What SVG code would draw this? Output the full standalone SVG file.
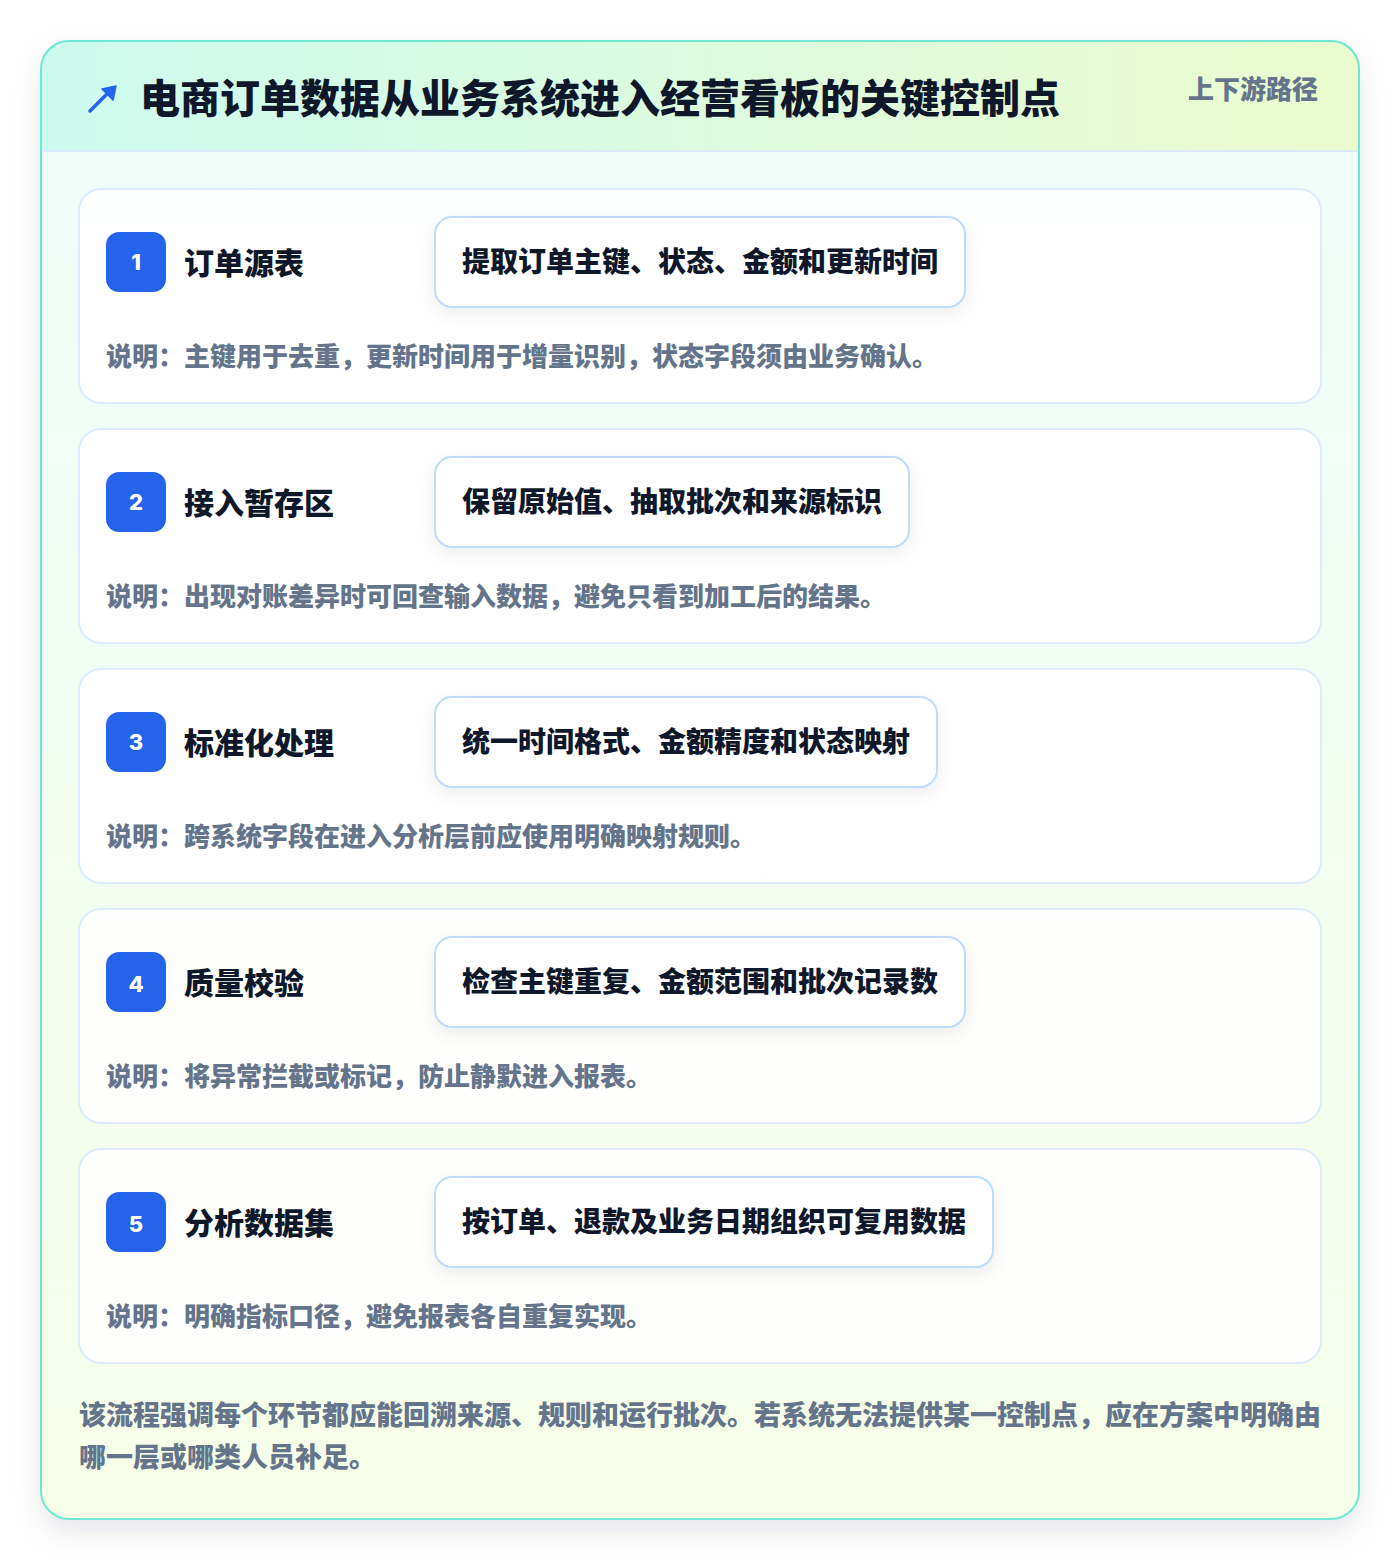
<svg xmlns="http://www.w3.org/2000/svg" width="1400" height="1560" viewBox="0 0 1400 1560">
  <defs>
    <linearGradient id="hdr" x1="0" y1="0" x2="1" y2="0">
      <stop offset="0" stop-color="#cdfaee"/>
      <stop offset="1" stop-color="#ebfbcf"/>
    </linearGradient>
    <linearGradient id="body" x1="0" y1="0" x2="0" y2="1">
      <stop offset="0" stop-color="#effdfa"/>
      <stop offset="1" stop-color="#f6fee8"/>
    </linearGradient>
    <filter id="sh" x="-10%" y="-10%" width="120%" height="120%">
      <feDropShadow dx="0" dy="12" stdDeviation="14" flood-color="#0f172a" flood-opacity="0.10"/>
    </filter>
    <filter id="psh" x="-10%" y="-30%" width="120%" height="160%">
      <feDropShadow dx="0" dy="6" stdDeviation="8" flood-color="#0f172a" flood-opacity="0.07"/>
    </filter>
    <clipPath id="outerClip">
      <rect x="41" y="41" width="1318" height="1478" rx="28"/>
    </clipPath>
  </defs>
  <style>
    text { font-family: "Noto Sans CJK SC", "Noto Sans", sans-serif; font-weight: 900; }
    .title { font-size: 40px; fill: #0f172a; }
    .tag { font-size: 26px; fill: #64748b; }
    .card { fill: #ffffff; fill-opacity: 0.88; stroke: #dbeafe; stroke-width: 2; }
    .badge { fill: #2563eb; }
    .num { font-size: 22px; fill: #ffffff; font-family: "Inter", "Noto Sans", sans-serif; font-weight: 800; }
    .stitle { font-size: 30px; fill: #0f172a; }
    .pill { fill: #ffffff; stroke: #bfdbfe; stroke-width: 2; }
    .ptext { font-size: 28px; fill: #0f172a; }
    .desc { font-size: 26px; fill: #64748b; }
    .foot { font-size: 27px; fill: #64748b; }
  </style>

  <rect width="1400" height="1560" fill="#ffffff"/>

  <g id="frame">
    <rect x="41" y="41" width="1318" height="1478" rx="28" fill="url(#body)" filter="url(#sh)"/>
    <g clip-path="url(#outerClip)">
      <rect x="41" y="41" width="1318" height="110" fill="url(#hdr)"/>
      <line x1="41" y1="151" x2="1359" y2="151" stroke="#dbeafe" stroke-width="2"/>
    </g>
    <rect x="41" y="41" width="1318" height="1478" rx="28" fill="none" stroke="#6ee7d3" stroke-width="2"/>
  </g>

  <g id="header">
    <g id="icon" stroke="#2563eb" fill="#2563eb">
      <line x1="90" y1="111" x2="109" y2="92" stroke-width="3.5" stroke-linecap="round"/>
      <polygon points="116,86 113,100 102,89" stroke-width="1.5" stroke-linejoin="round"/>
    </g>
    <text class="title" x="140" y="113">电商订单数据从业务系统进入经营看板的关键控制点</text>
    <text class="tag" x="1318" y="99" text-anchor="end">上下游路径</text>
  </g>

  <g id="connectors"></g>

  <g id="step1">
    <rect class="card" x="79" y="189" width="1242" height="214" rx="22"/>
    <rect class="badge" x="106" y="232" width="60" height="60" rx="13"/>
    <text class="num" x="136" y="270" text-anchor="middle">1</text>
    <text class="stitle" x="184" y="274">订单源表</text>
    <rect class="pill" x="435" y="217" width="530" height="90" rx="17" filter="url(#psh)"/>
    <text class="ptext" x="462" y="272">提取订单主键、状态、金额和更新时间</text>
    <text class="desc" x="106" y="366">说明：主键用于去重，更新时间用于增量识别，状态字段须由业务确认。</text>
  </g>

  <g id="step2">
    <rect class="card" x="79" y="429" width="1242" height="214" rx="22"/>
    <rect class="badge" x="106" y="472" width="60" height="60" rx="13"/>
    <text class="num" x="136" y="510" text-anchor="middle">2</text>
    <text class="stitle" x="184" y="514">接入暂存区</text>
    <rect class="pill" x="435" y="457" width="474" height="90" rx="17" filter="url(#psh)"/>
    <text class="ptext" x="462" y="512">保留原始值、抽取批次和来源标识</text>
    <text class="desc" x="106" y="606">说明：出现对账差异时可回查输入数据，避免只看到加工后的结果。</text>
  </g>

  <g id="step3">
    <rect class="card" x="79" y="669" width="1242" height="214" rx="22"/>
    <rect class="badge" x="106" y="712" width="60" height="60" rx="13"/>
    <text class="num" x="136" y="750" text-anchor="middle">3</text>
    <text class="stitle" x="184" y="754">标准化处理</text>
    <rect class="pill" x="435" y="697" width="502" height="90" rx="17" filter="url(#psh)"/>
    <text class="ptext" x="462" y="752">统一时间格式、金额精度和状态映射</text>
    <text class="desc" x="106" y="846">说明：跨系统字段在进入分析层前应使用明确映射规则。</text>
  </g>

  <g id="step4">
    <rect class="card" x="79" y="909" width="1242" height="214" rx="22"/>
    <rect class="badge" x="106" y="952" width="60" height="60" rx="13"/>
    <text class="num" x="136" y="992" text-anchor="middle">4</text>
    <text class="stitle" x="184" y="994">质量校验</text>
    <rect class="pill" x="435" y="937" width="530" height="90" rx="17" filter="url(#psh)"/>
    <text class="ptext" x="462" y="992">检查主键重复、金额范围和批次记录数</text>
    <text class="desc" x="106" y="1086">说明：将异常拦截或标记，防止静默进入报表。</text>
  </g>

  <g id="step5">
    <rect class="card" x="79" y="1149" width="1242" height="214" rx="22"/>
    <rect class="badge" x="106" y="1192" width="60" height="60" rx="13"/>
    <text class="num" x="136" y="1232" text-anchor="middle">5</text>
    <text class="stitle" x="184" y="1234">分析数据集</text>
    <rect class="pill" x="435" y="1177" width="558" height="90" rx="17" filter="url(#psh)"/>
    <text class="ptext" x="462" y="1232">按订单、退款及业务日期组织可复用数据</text>
    <text class="desc" x="106" y="1326">说明：明确指标口径，避免报表各自重复实现。</text>
  </g>

  <g id="footer">
    <text class="foot" x="79" y="1425">该流程强调每个环节都应能回溯来源、规则和运行批次。若系统无法提供某一控制点，应在方案中明确由</text>
    <text class="foot" x="79" y="1467">哪一层或哪类人员补足。</text>
  </g>
</svg>
